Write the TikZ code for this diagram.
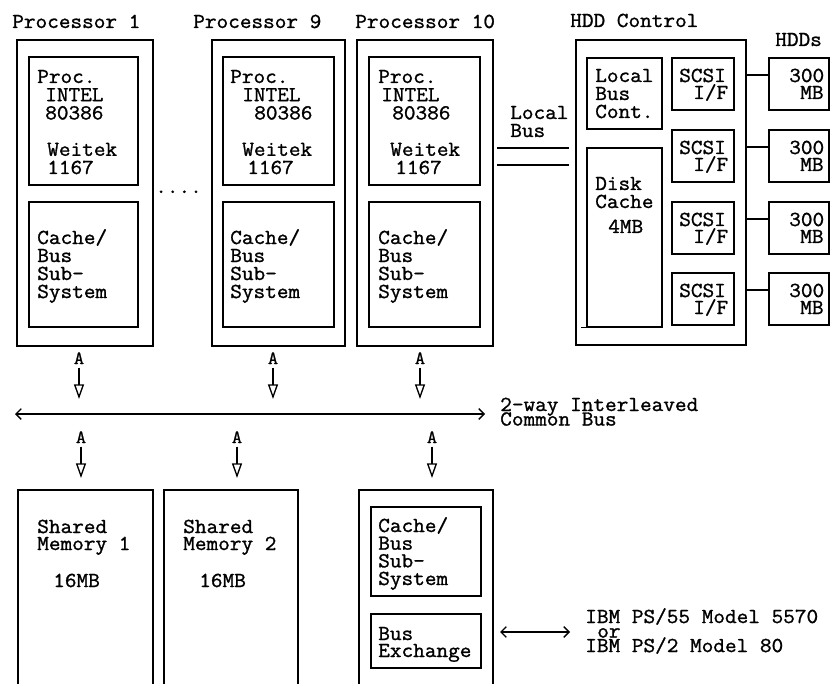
\documentclass[tikz,border=0pt]{standalone}
\usepackage{fontspec}
\setmonofont[FakeBold=1.2,FakeStretch=1.06]{Latin Modern Mono}
\usetikzlibrary{arrows.meta,fit}
\newcommand\bx[3]{\node[box, fit={#2 #3}] (#1) {};}
\newcommand\tl[4]{\node[tx] (#1) at (#2,#3) {#4};}
% block of lines: #1 = baseline distance in pt, lines separated by \cr
\newcommand\blk[2]{\vtop{\baselineskip=#1pt\lineskiplimit=-\maxdimen\lineskip=0pt\halign{##\hfil\cr#2\crcr}}}
\begin{document}
\begin{tikzpicture}[x=0.75pt,y=-0.75pt,
  box/.style={draw, line width=1.1pt, inner sep=0pt},
  tx/.style={inner sep=0pt, anchor=base west, font=\ttfamily\fontsize{16}{16}\selectfont},
  ax/.style={inner sep=0pt, anchor=base, font=\ttfamily\fontsize{14}{14}\selectfont},
  conn/.style={line width=1.1pt},
  tri/.style={line width=1pt, -{Triangle[open,length=11pt,width=7.5pt,line width=1pt]}},
  chev/.style={line width=1pt, {Straight Barb[length=4pt,width=8pt]}-{Straight Barb[length=4pt,width=8pt]}}
]
\useasboundingbox (0,0) rectangle (831,684);

% ---------- titles
\tl{lp1}{12}{28}{Processor 1}
\tl{lp9}{193}{28}{Processor 9}
\tl{lp10}{355}{28}{Processor 10}
\tl{lhdd}{570}{27}{HDD Control}
\tl{lhdds}{775}{46}{HDDs}

% ---------- processors
\bx{p1}{(17,40)}{(153,346)}
\bx{p1a}{(29,57)}{(138,185)}
\bx{p1b}{(29,202)}{(138,327)}
\bx{p9}{(212,40)}{(345,346)}
\bx{p9a}{(223,57)}{(334,185)}
\bx{p9b}{(223,202)}{(334,327)}
\bx{p10}{(357,40)}{(493,346)}
\bx{p10a}{(369,57)}{(480,185)}
\bx{p10b}{(369,202)}{(480,327)}

\tl{p1t}{37}{83}{\blk{13.65}{Proc.\cr\kern6pt INTEL\cr\kern6pt 80386\cr\cr\kern7.5pt Weitek\cr\kern7.5pt 1167}}
\tl{p9t}{230}{83}{\blk{13.65}{Proc.\cr\kern9pt INTEL\cr\kern18pt 80386\cr\cr\kern9pt Weitek\cr\kern12.75pt 1167}}
\tl{p10t}{378}{83}{\blk{13.65}{Proc.\cr\kern2.25pt INTEL\cr\kern10.5pt 80386\cr\cr\kern9pt Weitek\cr\kern12.75pt 1167}}

\tl{p1c}{37}{244}{\blk{13.5}{Cache/\cr Bus\cr Sub-\cr System}}
\tl{p9c}{230}{244}{\blk{13.5}{Cache/\cr Bus\cr Sub-\cr System}}
\tl{p10c}{378}{244}{\blk{13.5}{Cache/\cr Bus\cr Sub-\cr System}}
\tl{dots}{155}{193}{....}

% ---------- local bus
\coordinate (lb1a) at (497,148); \coordinate (lb1b) at (569,148);
\coordinate (lb2a) at (497,165); \coordinate (lb2b) at (569,165);
\draw[conn] (lb1a) -- (lb1b);
\draw[conn] (lb2a) -- (lb2b);
\tl{lbt}{510}{119}{\blk{13.5}{Local\cr Bus}}

% ---------- HDD control
\bx{ctl}{(576,40)}{(746,345)}
\bx{lbc}{(587,58)}{(662,129)}
\bx{dc}{(587,148)}{(662,327)}
\draw[conn] (dc.south west) -- ++(-5,0);
\tl{lbct}{595}{82}{\blk{13.5}{Local\cr Bus\cr Cont.}}
\tl{dct}{595}{190}{\blk{13.5}{Disk\cr Cache}}
\tl{dcm}{608}{233}{4MB}
\foreach \t/\i in {58/1,130/2,202/3,273/4}{
  \node[box, fit={(672,\t) (734,\t+52)}] (s\i) {};
  \node[tx] (s\i t) at (679,\t+24) {\blk{12.75}{SCSI\cr\kern10.5pt I/F}};
  \node[box, fit={(769,\t) (829,\t+52)}] (h\i) {};
  \node[tx] (h\i t) at (789,\t+24) {\blk{12.75}{300\cr\kern8.25pt MB}};
  \coordinate (cy\i) at (0,\t+17);
  \draw[conn] (ctl.east |- cy\i) -- (h\i.west |- cy\i);
}

% ---------- common bus
\foreach \x/\i in {79/1,273/2,420/3}{
  \node[ax] (ua\i) at (\x,364) {A};
  \coordinate (ut\i) at (\x,399);
  \draw[tri] ([yshift=-2.5pt]ua\i.south) -- (ut\i);
}
\coordinate (bl) at (15,414); \coordinate (br) at (485,414);
\draw[chev] (bl) -- (br);
\tl{cb}{500}{411}{\blk{10.9}{2-way Interleaved\cr Common Bus}}
\foreach \x/\i in {81/1,237/2,432/3}{
  \node[ax] (la\i) at (\x,443) {A};
  \coordinate (lt\i) at (\x,478);
  \draw[tri] ([yshift=-2.5pt]la\i.south) -- (lt\i);
}

% ---------- lower boxes (open at the bottom edge)
\draw[conn] (18,684) |- (153,490) -- (153,684);
\draw[conn] (164,684) |- (298,490) -- (298,684);
\draw[conn] (359,684) |- (493,490) -- (493,684);
\tl{sm1}{37}{533}{\blk{12.75}{Shared\cr Memory 1}}
\tl{sm1m}{53}{587}{16MB}
\tl{sm2}{183}{533}{\blk{12.75}{Shared\cr Memory 2}}
\tl{sm2m}{199}{587}{16MB}
\bx{b3a}{(371,507)}{(481,596)}
\bx{b3b}{(371,614)}{(481,668)}
\tl{b3c}{378}{532}{\blk{13.25}{Cache/\cr Bus\cr Sub-\cr System}}
\tl{b3e}{378}{640}{\blk{12.75}{Bus\cr Exchange}}

\coordinate (ia) at (500,632); \coordinate (ib) at (570,632);
\draw[chev] (ia) -- (ib);
\tl{ibm}{585}{623}{\blk{10.9}{IBM PS/55 Model 5570\cr\kern9pt or\cr IBM PS/2 Model 80}}
\end{tikzpicture}
\end{document}
